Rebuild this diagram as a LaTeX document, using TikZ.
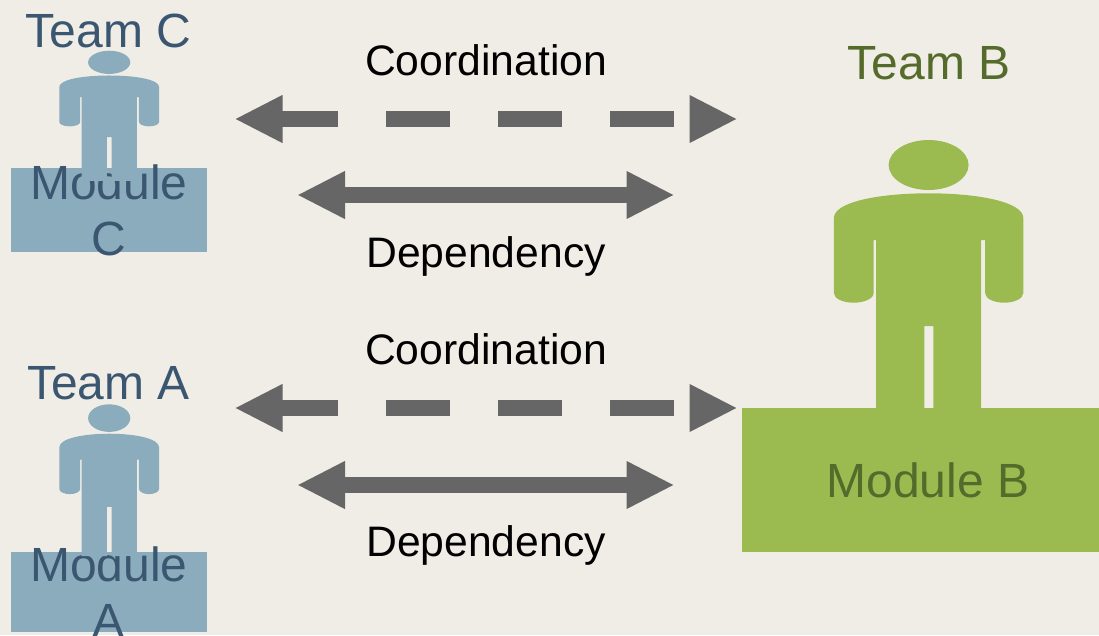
\documentclass[tikz,border=0pt]{standalone}
\usepackage{fontspec}
\setmainfont{Liberation Sans}
\usetikzlibrary{arrows.meta}
\definecolor{bgc}{HTML}{F0EDE6}
\definecolor{grn}{HTML}{9BBB50}
\definecolor{grnt}{HTML}{556B2B}
\definecolor{blu}{HTML}{8AACBC}
\definecolor{blut}{HTML}{3B5670}
\definecolor{arr}{HTML}{666666}
\tikzset{
  x=1pt,y=-1pt,
  lab/.style={inner sep=0pt,anchor=base,font=\fontsize{42.67}{50}\selectfont,text=black},
  team/.style={inner sep=0pt,anchor=base,font=\fontsize{48}{56}\selectfont},
  modtext/.style={inner sep=0pt,anchor=base,align=center,font=\fontsize{48}{56}\selectfont},
  dbl/.style={arr,line width=16pt,{Triangle[length=48pt,width=44.3pt]}-{Triangle[length=48pt,width=44.3pt]}},
  dsh/.style={dbl,dash pattern=on 64pt off 48pt,dash phase=5.5pt},
}
\newcommand{\personfig}[6]{% fill, cx, top, xs, ys, leg bottom
  \begin{scope}[shift={(#2,#3)},xscale=#4,yscale=#5,fill=#1]
    \fill (0,25) ellipse [x radius=40,y radius=25];
    \fill (-94.7,78) .. controls (-94.7,62) and (-50,53.3) .. (0,53.3)
      .. controls (50,53.3) and (94.7,62) .. (94.7,78)
      -- (94.7,153) .. controls (94.7,159) and (85,162.7) .. (75.5,162.7)
      .. controls (66,162.7) and (56.5,159) .. (56.5,153)
      -- (56.5,100) -- (52.5,100) -- (52.5,#6) -- (4.7,#6) -- (4.7,186) -- (-4.3,186) -- (-4.3,#6)
      -- (-52.5,#6) -- (-52.5,100) -- (-55,100) -- (-55,153)
      .. controls (-55,159) and (-65,162.7) .. (-75,162.7)
      .. controls (-85,162.7) and (-94.7,159) .. (-94.7,153) -- cycle;
  \end{scope}
}
\begin{document}
\begin{tikzpicture}
\useasboundingbox (0,0) rectangle (1099,635);
\fill[bgc] (0,0) rectangle (1099,635);
% boxes
\fill[blu] (11,168) rectangle (207,252);
\fill[blu] (11,552) rectangle (207,632);
\fill[grn] (742,408) rectangle (1099,552);
% box and team labels
\node[modtext,text=blut] (modc) at (109,255) {Module\\C};
\node[modtext,text=blut] (moda) at (109,637.5) {Module\\A};
\node[modtext,text=grnt] (modb) at (928,497) {Module B};
\node[team,text=blut] (teamc) at (108.5,47) {Team C};
\node[team,text=blut] (teama) at (108.5,399) {Team A};
\node[team,text=grnt] (teamb) at (929,79) {Team B};
% people
\personfig{blu}{109.2}{50.7}{0.527}{0.465}{280}
\personfig{blu}{109.2}{404.3}{0.527}{0.552}{275}
\personfig{grn}{928.6}{140}{1}{1}{268}
% arrows
\coordinate (c1l) at (234.5,119); \coordinate (c1r) at (737.5,119);
\coordinate (d1l) at (297,195); \coordinate (d1r) at (674.5,195);
\coordinate (c2l) at (234.5,408); \coordinate (c2r) at (737.5,408);
\coordinate (d2l) at (297,485); \coordinate (d2r) at (674.5,485);
\draw[dsh] (c1l) -- (c1r);
\draw[dbl] (d1l) -- (d1r);
\draw[dsh] (c2l) -- (c2r);
\draw[dbl] (d2l) -- (d2r);
% labels
\node[lab] (lc1) at (486,75) {Coordination};
\node[lab] (ld1) at (486,267) {Dependency};
\node[lab] (lc2) at (486,364) {Coordination};
\node[lab] (ld2) at (486,556) {Dependency};
\end{tikzpicture}
\end{document}
